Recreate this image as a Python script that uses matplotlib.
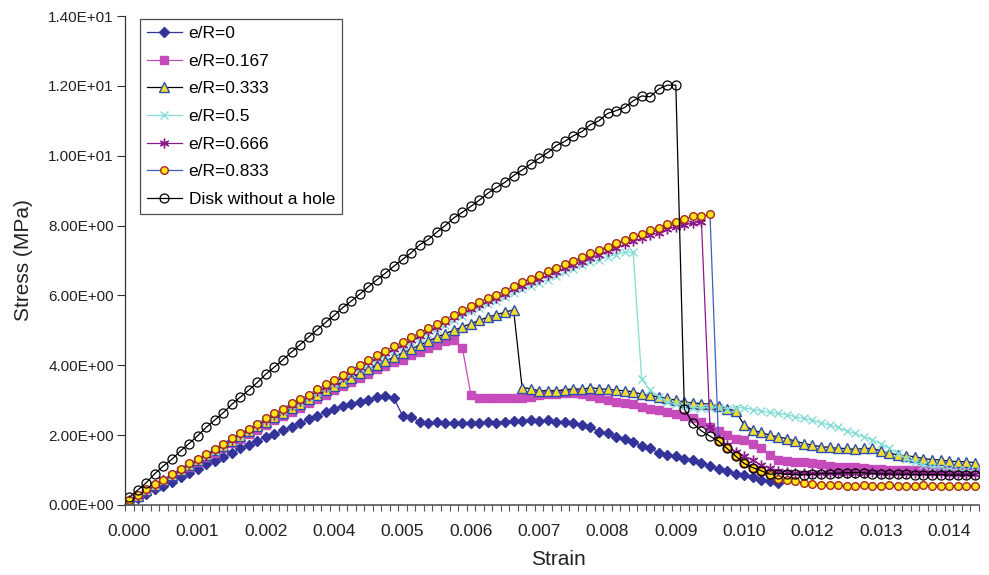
import matplotlib.pyplot as plt
import numpy as np

plt.rcParams['font.family'] = ['Liberation Sans', 'DejaVu Sans']

# category axis: 100 strain steps, a label on every 8th step
x_labels = ['0.000', '0.001', '0.002', '0.004', '0.005', '0.006', '0.007',
            '0.008', '0.009', '0.010', '0.012', '0.013', '0.014']
n_steps = 100
label_every = 8

# stress (MPa) per strain step
stress_e0 = [
    0.10, 0.20, 0.31, 0.45, 0.55, 0.67, 0.79, 0.92, 1.03, 1.16,
    1.27, 1.38, 1.48, 1.62, 1.71, 1.84, 1.95, 2.03, 2.14, 2.24,
    2.35, 2.45, 2.56, 2.66, 2.75, 2.84, 2.88, 2.96, 3.00, 3.08,
    3.11, 3.05, 2.56, 2.52, 2.38, 2.36, 2.38, 2.36, 2.35, 2.35,
    2.35, 2.36, 2.37, 2.36, 2.37, 2.41, 2.41, 2.42, 2.41, 2.42,
    2.39, 2.37, 2.35, 2.29, 2.22, 2.10, 2.05, 1.95, 1.88, 1.81,
    1.69, 1.62, 1.49, 1.43, 1.40, 1.33, 1.29, 1.21, 1.13, 1.02,
    0.98, 0.90, 0.86, 0.81, 0.73, 0.69, 0.64]

stress_e167 = [
    0.12, 0.26, 0.40, 0.54, 0.68, 0.82, 0.96, 1.10, 1.23, 1.37,
    1.50, 1.63, 1.77, 1.90, 2.03, 2.16, 2.29, 2.42, 2.54, 2.67,
    2.79, 2.92, 3.04, 3.16, 3.28, 3.40, 3.52, 3.64, 3.76, 3.88,
    3.99, 4.08, 4.16, 4.30, 4.38, 4.50, 4.59, 4.69, 4.71, 4.50,
    3.16, 3.07, 3.07, 3.07, 3.07, 3.07, 3.07, 3.09, 3.14, 3.17,
    3.19, 3.20, 3.20, 3.19, 3.11, 3.05, 3.00, 2.95, 2.92, 2.88,
    2.80, 2.76, 2.71, 2.66, 2.60, 2.55, 2.48, 2.38, 2.24, 2.12,
    2.00, 1.90, 1.86, 1.74, 1.62, 1.43, 1.30, 1.27, 1.24, 1.22,
    1.19, 1.17, 1.11, 1.08, 1.08, 1.08, 1.05, 1.03, 1.02, 1.01,
    1.00, 1.00, 0.99, 0.99, 0.98, 0.98, 0.98, 0.97, 0.97, 0.97]

stress_e333 = [
    0.12, 0.27, 0.42, 0.57, 0.71, 0.86, 1.00, 1.14, 1.28, 1.43,
    1.57, 1.70, 1.84, 1.98, 2.11, 2.25, 2.38, 2.51, 2.64, 2.77,
    2.90, 3.03, 3.15, 3.28, 3.40, 3.53, 3.65, 3.77, 3.89, 4.01,
    4.12, 4.24, 4.36, 4.47, 4.58, 4.69, 4.80, 4.91, 5.00, 5.10,
    5.19, 5.29, 5.38, 5.45, 5.52, 5.59, 3.36, 3.33, 3.27, 3.27,
    3.27, 3.29, 3.33, 3.31, 3.36, 3.33, 3.31, 3.29, 3.27, 3.24,
    3.17, 3.14, 3.09, 3.05, 3.00, 2.95, 2.92, 2.90, 2.89, 2.83,
    2.76, 2.69, 2.29, 2.14, 2.08, 2.00, 1.95, 1.90, 1.83, 1.76,
    1.71, 1.67, 1.65, 1.62, 1.62, 1.59, 1.62, 1.62, 1.55, 1.49,
    1.43, 1.41, 1.38, 1.33, 1.30, 1.29, 1.26, 1.24, 1.24, 1.21]

stress_e500 = [
    0.13, 0.28, 0.43, 0.57, 0.71, 0.85, 1.01, 1.15, 1.28, 1.42,
    1.56, 1.71, 1.86, 2.01, 2.15, 2.29, 2.44, 2.58, 2.72, 2.86,
    2.96, 3.09, 3.23, 3.37, 3.50, 3.64, 3.77, 3.91, 4.04, 4.18,
    4.30, 4.42, 4.54, 4.67, 4.79, 4.91, 5.03, 5.15, 5.29, 5.42,
    5.54, 5.64, 5.75, 5.83, 5.95, 6.06, 6.17, 6.26, 6.36, 6.45,
    6.55, 6.66, 6.76, 6.86, 6.95, 7.02, 7.11, 7.17, 7.24, 7.24,
    3.60, 3.29, 3.10, 2.95, 2.89, 2.83, 2.79, 2.79, 2.79, 2.79,
    2.76, 2.79, 2.78, 2.73, 2.69, 2.65, 2.62, 2.59, 2.52, 2.48,
    2.43, 2.35, 2.29, 2.22, 2.12, 2.05, 1.95, 1.86, 1.76, 1.62,
    1.48, 1.33, 1.22, 1.14, 1.08, 1.05, 1.02, 1.00, 0.99, 0.98]

stress_e666 = [
    0.13, 0.27, 0.43, 0.57, 0.71, 0.86, 1.01, 1.16, 1.28, 1.43,
    1.57, 1.72, 1.87, 2.02, 2.15, 2.29, 2.44, 2.58, 2.71, 2.86,
    2.98, 3.11, 3.26, 3.39, 3.53, 3.67, 3.81, 3.95, 4.08, 4.22,
    4.35, 4.47, 4.59, 4.72, 4.85, 4.98, 5.11, 5.23, 5.37, 5.50,
    5.61, 5.72, 5.84, 5.93, 6.05, 6.17, 6.28, 6.38, 6.48, 6.58,
    6.68, 6.78, 6.88, 6.97, 7.08, 7.16, 7.27, 7.36, 7.46, 7.55,
    7.63, 7.72, 7.80, 7.90, 7.96, 8.02, 8.07, 8.10, 2.24, 1.90,
    1.72, 1.52, 1.40, 1.29, 1.14, 1.05, 0.98, 0.95, 0.92, 0.91,
    0.91, 0.92, 0.92, 0.93, 0.92, 0.92, 0.93, 0.94, 0.93, 0.92,
    0.93, 0.92, 0.92, 0.92, 0.91, 0.91, 0.90, 0.90, 0.90, 0.90]

stress_e833 = [
    0.14, 0.29, 0.45, 0.59, 0.73, 0.88, 1.04, 1.19, 1.31, 1.46,
    1.60, 1.76, 1.91, 2.06, 2.19, 2.33, 2.48, 2.62, 2.76, 2.91,
    3.03, 3.16, 3.31, 3.45, 3.59, 3.73, 3.87, 4.01, 4.14, 4.29,
    4.42, 4.54, 4.66, 4.80, 4.93, 5.06, 5.19, 5.31, 5.45, 5.58,
    5.69, 5.81, 5.93, 6.02, 6.14, 6.27, 6.38, 6.48, 6.59, 6.69,
    6.79, 6.90, 7.00, 7.09, 7.21, 7.29, 7.40, 7.49, 7.59, 7.69,
    7.76, 7.86, 7.93, 8.05, 8.11, 8.19, 8.26, 8.26, 8.32, 1.83,
    1.62, 1.40, 1.19, 1.07, 0.98, 0.86, 0.75, 0.71, 0.68, 0.63,
    0.60, 0.58, 0.56, 0.56, 0.55, 0.55, 0.56, 0.55, 0.55, 0.56,
    0.55, 0.55, 0.55, 0.56, 0.55, 0.55, 0.55, 0.55, 0.55, 0.55]

stress_disk = [
    0.22, 0.43, 0.64, 0.90, 1.12, 1.31, 1.55, 1.76, 1.98, 2.22,
    2.43, 2.64, 2.88, 3.09, 3.29, 3.51, 3.75, 3.95, 4.16, 4.38,
    4.59, 4.81, 5.02, 5.23, 5.43, 5.65, 5.84, 6.04, 6.25, 6.45,
    6.64, 6.84, 7.03, 7.22, 7.45, 7.60, 7.81, 8.00, 8.22, 8.38,
    8.55, 8.73, 8.93, 9.09, 9.24, 9.43, 9.59, 9.76, 9.93, 10.09,
    10.29, 10.41, 10.57, 10.69, 10.89, 11.00, 11.21, 11.29, 11.38, 11.57,
    11.71, 11.69, 11.91, 12.02, 12.02, 2.74, 2.34, 2.12, 1.97, 1.83,
    1.62, 1.40, 1.19, 1.07, 0.98, 0.88, 0.90, 0.88, 0.88, 0.87,
    0.88, 0.90, 0.90, 0.91, 0.92, 0.93, 0.92, 0.90, 0.89, 0.89,
    0.88, 0.88, 0.87, 0.87, 0.87, 0.87, 0.86, 0.86, 0.86, 0.86]

series = [
    ('e/R=0', stress_e0,
     dict(color='#333399', marker='D', ms=5.5, mfc='#333399', mec='#333399')),
    ('e/R=0.167', stress_e167,
     dict(color='#C64CBB', marker='s', ms=6, mfc='#C64CBB', mec='#C64CBB')),
    ('e/R=0.333', stress_e333,
     dict(color='black', marker='^', ms=6.5, mfc='#F2DC2E', mec='#2E4DB0', mew=1)),
    ('e/R=0.5', stress_e500,
     dict(color='#84DCD6', marker='x', ms=6, mec='#84DCD6', mew=1)),
    ('e/R=0.666', stress_e666,
     dict(color='#8B1A8B', marker=(6, 2, 0), ms=7, mec='#8B1A8B', mew=1)),
    ('e/R=0.833', stress_e833,
     dict(color='#3F5FC0', marker='o', ms=5.5, mfc='#FFE41A', mec='#A3261E', mew=1)),
    ('Disk without a hole', stress_disk,
     dict(color='black', marker='o', ms=6.5, mfc='none', mec='black', mew=0.9)),
]

fig = plt.figure(figsize=(9.89, 5.75), dpi=100)
ax = fig.add_axes([125 / 989, 1 - 505 / 575, 854 / 989, 489 / 575])

for name, vals, style in series:
    ax.plot(np.arange(len(vals)), vals, lw=0.9, label=name, **style)

ax.set_xlim(-0.5, n_steps - 0.5)
ax.set_ylim(0, 14)

# ticks sit between categories, labels sit on every 8th category
ax.set_xticks(np.arange(-0.5, n_steps, 1.0))
ax.set_xticklabels([])
ax.set_xticks(np.arange(0, n_steps, label_every), minor=True)
ax.set_xticklabels(x_labels, minor=True)
ax.tick_params(axis='x', which='major', direction='out', length=4,
               width=0.8, color='#555555')
ax.tick_params(axis='x', which='minor', length=0, pad=14, labelsize=12.5,
               labelcolor='#222222')

yt = np.arange(0, 15, 2)
ax.set_yticks(yt)
ax.set_yticklabels(['%.2E' % v for v in yt])
ax.tick_params(axis='y', direction='out', length=6, width=0.8, pad=2,
               labelsize=11, labelcolor='#222222', color='#333333')

for side in ('top', 'right'):
    ax.spines[side].set_visible(False)
ax.spines['left'].set_color('#333333')
ax.spines['bottom'].set_color('#555555')
ax.spines['left'].set_linewidth(0.9)
ax.spines['bottom'].set_linewidth(1.2)

ax.set_xlabel('Strain', fontsize=15, color='#222222')
ax.xaxis.set_label_coords(0.507, -0.093)
ax.set_ylabel('Stress (MPa)', fontsize=15, color='#222222')
ax.yaxis.set_label_coords(-0.108, 0.5)

leg = ax.legend(loc='upper left', bbox_to_anchor=(140 / 989, 1 - 19 / 575),
                bbox_transform=fig.transFigure, fontsize=12.5, frameon=True,
                fancybox=False, edgecolor='#222222', borderpad=0.4,
                labelspacing=0.72, handlelength=2.0, handletextpad=0.4,
                borderaxespad=0)
leg.get_frame().set_linewidth(0.9)

fig.savefig('out.png', dpi=100)
